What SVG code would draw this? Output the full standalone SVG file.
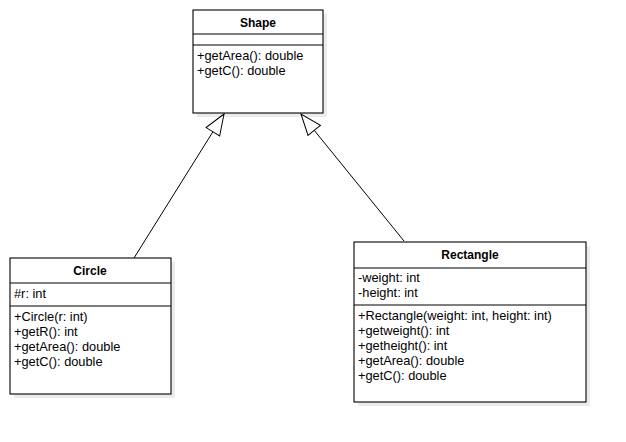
<svg xmlns="http://www.w3.org/2000/svg" width="626" height="442" viewBox="0 0 626 442">
<style>
.box{fill:#fff;stroke:#000;stroke-width:1.1}
.sh{fill:#ececec;stroke:none}
.div{stroke:#000;stroke-width:1.1}
.t{font-family:"Liberation Sans",Arial,sans-serif;font-size:12.8px;fill:#000}
.b{font-weight:bold;text-anchor:middle;font-size:12px}
.edge{stroke:#000;stroke-width:1;fill:none}
</style>
<defs>
<marker id="tri" markerUnits="userSpaceOnUse" markerWidth="30" markerHeight="30" viewBox="-25 -12 30 24" refX="0" refY="0" orient="auto" overflow="visible">
<path d="M0,0 L-21,-8 L-21,8 Z" fill="#fff" stroke="#000" stroke-width="1"/>
</marker>
</defs>
<rect width="626" height="442" fill="#fff"/>
<g id="Shape">
<rect class="sh" x="197" y="14" width="130" height="103"/>
<rect class="box" x="193" y="10" width="130" height="103"/>
<line class="div" x1="193" y1="34" x2="323" y2="34"/>
<line class="div" x1="193" y1="45" x2="323" y2="45"/>
<text class="t b" x="258" y="27">Shape</text>
<text class="t" x="197" y="60">+getArea(): double</text>
<text class="t" x="197" y="75">+getC(): double</text>
</g>
<g id="Circle">
<rect class="sh" x="14" y="262" width="161" height="136"/>
<rect class="box" x="10" y="258" width="161" height="136"/>
<line class="div" x1="10" y1="283" x2="171" y2="283"/>
<line class="div" x1="10" y1="306" x2="171" y2="306"/>
<text class="t b" x="90" y="275">Circle</text>
<text class="t" x="14" y="298">#r: int</text>
<text class="t" x="14" y="321">+Circle(r: int)</text>
<text class="t" x="14" y="336">+getR(): int</text>
<text class="t" x="14" y="351">+getArea(): double</text>
<text class="t" x="14" y="366">+getC(): double</text>
</g>
<g id="Rectangle">
<rect class="sh" x="358" y="246" width="232" height="160"/>
<rect class="box" x="354" y="242" width="232" height="160"/>
<line class="div" x1="354" y1="268" x2="586" y2="268"/>
<line class="div" x1="354" y1="305" x2="586" y2="305"/>
<text class="t b" x="470" y="259">Rectangle</text>
<text class="t" x="358" y="282">-weight: int</text>
<text class="t" x="358" y="297">-height: int</text>
<text class="t" x="358" y="320">+Rectangle(weight: int, height: int)</text>
<text class="t" x="358" y="335">+getweight(): int</text>
<text class="t" x="358" y="350">+getheight(): int</text>
<text class="t" x="358" y="365">+getArea(): double</text>
<text class="t" x="358" y="380">+getC(): double</text>
</g>
<g id="connectors">
<line class="edge" x1="134" y1="258" x2="224" y2="114" marker-end="url(#tri)"/>
<line class="edge" x1="404" y1="241" x2="301" y2="114" marker-end="url(#tri)"/>
</g>
</svg>
